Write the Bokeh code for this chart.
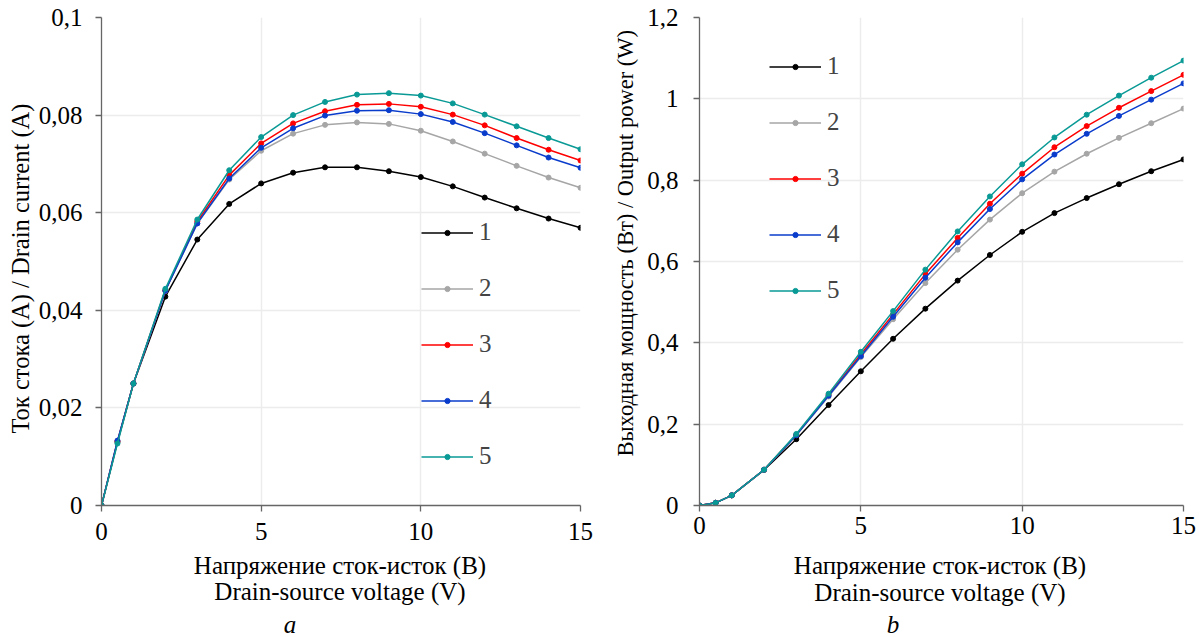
from bokeh.plotting import figure
from bokeh.layouts import row, column
from bokeh.models import Range1d, FixedTicker, CustomJSTickFormatter, Legend, LegendItem, Title, Div
from bokeh.embed import file_html
from bokeh.resources import INLINE

# ---- data ----
voltage = [0, 0.5, 1, 2, 3, 4, 5, 6, 7, 8, 9, 10, 11, 12, 13, 14, 15]
series_names = ["1", "2", "3", "4", "5"]
series_colors = ["#000000", "#a6a6a6", "#ff0000", "#0a3ccc", "#0a9a96"]

current_1 = [0, 0.0130, 0.0250, 0.0428, 0.0545, 0.0618, 0.0660, 0.0682, 0.0693, 0.0693, 0.0685, 0.0673, 0.0654, 0.0631, 0.0609, 0.0588, 0.0569]
current_2 = [0, 0.0130, 0.0250, 0.0440, 0.0578, 0.0668, 0.0727, 0.0762, 0.0780, 0.0785, 0.0782, 0.0768, 0.0746, 0.0721, 0.0696, 0.0672, 0.0651]
current_3 = [0, 0.0132, 0.0250, 0.0441, 0.0582, 0.0677, 0.0742, 0.0783, 0.0808, 0.0821, 0.0823, 0.0817, 0.0801, 0.0779, 0.0753, 0.0729, 0.0707]
current_4 = [0, 0.0133, 0.0250, 0.0440, 0.0578, 0.0670, 0.0733, 0.0773, 0.0799, 0.0809, 0.0810, 0.0802, 0.0786, 0.0763, 0.0738, 0.0713, 0.0692]
current_5 = [0, 0.0127, 0.0250, 0.0444, 0.0586, 0.0687, 0.0755, 0.0800, 0.0827, 0.0842, 0.0845, 0.0840, 0.0824, 0.0801, 0.0777, 0.0753, 0.0730]

power_1 = [0, 0.0066, 0.025, 0.0875, 0.163, 0.247, 0.330, 0.410, 0.484, 0.553, 0.616, 0.673, 0.719, 0.756, 0.790, 0.822, 0.851]
power_2 = [0, 0.0066, 0.025, 0.088, 0.173, 0.268, 0.365, 0.458, 0.547, 0.629, 0.703, 0.768, 0.821, 0.865, 0.904, 0.940, 0.976]
power_3 = [0, 0.0066, 0.025, 0.088, 0.174, 0.272, 0.372, 0.470, 0.569, 0.658, 0.742, 0.816, 0.881, 0.933, 0.978, 1.019, 1.059]
power_4 = [0, 0.0066, 0.025, 0.088, 0.173, 0.270, 0.367, 0.464, 0.560, 0.647, 0.729, 0.802, 0.863, 0.914, 0.958, 0.998, 1.038]
power_5 = [0, 0.0064, 0.025, 0.088, 0.176, 0.275, 0.378, 0.478, 0.580, 0.674, 0.760, 0.839, 0.905, 0.961, 1.008, 1.052, 1.094]

x_ticks = [0, 5, 10, 15]
y_ticks_current = [0, 0.02, 0.04, 0.06, 0.08, 0.1]
y_ticks_power = [0, 0.2, 0.4, 0.6, 0.8, 1.0, 1.2]

x_label_ru = "Напряжение сток-исток (В)"
x_label_en = "Drain-source voltage (V)"
y_label_current = "Ток стока (А) / Drain current (A)"
y_label_power = "Выходная мощность (Вт) / Output power (W)"
panel_letters = ["a", "b"]

FONT = "Liberation Serif"
FS = "25px"
AXIS_COLOR = "#666666"
GRID_COLOR = "#ececec"

fmt = CustomJSTickFormatter(code="""
let s = (+tick.toFixed(3)).toString();
return s.replace('.', ',');
""")


def make_plot(series, y_max, y_ticks, y_label, yl_size, width, height, mb_left, mb_right, mb_bottom,
              leg_loc, x_std, y_std, yl_offset, yl_standoff):
    p = figure(width=width, height=height, output_backend="svg", toolbar_location=None,
               x_range=Range1d(0, 15), y_range=Range1d(0, y_max),
               min_border_left=mb_left, min_border_right=mb_right,
               min_border_top=17, min_border_bottom=mb_bottom)
    p.outline_line_color = None
    p.background_fill_color = "white"
    for ax, ticks in ((p.xaxis[0], x_ticks), (p.yaxis[0], y_ticks)):
        ax.ticker = FixedTicker(ticks=ticks)
        ax.formatter = fmt
        ax.axis_line_color = AXIS_COLOR
        ax.axis_line_width = 1.3
        ax.major_tick_line_color = AXIS_COLOR
        ax.major_tick_line_width = 1.3
        ax.major_tick_in = 0
        ax.major_tick_out = 6
        ax.minor_tick_line_color = None
        ax.major_label_text_font = FONT
        ax.major_label_text_font_size = FS
        ax.major_label_text_color = "black"
    p.xaxis.major_label_standoff = x_std
    p.yaxis.major_label_standoff = y_std
    p.grid.grid_line_color = GRID_COLOR
    p.grid.grid_line_width = 1.5
    p.xgrid.ticker = FixedTicker(ticks=x_ticks)
    p.ygrid.ticker = FixedTicker(ticks=y_ticks)

    # y-axis title as a side title so it can be shifted along the axis
    p.add_layout(Title(text=y_label, align="left", offset=yl_offset, vertical_align="bottom",
                       standoff=yl_standoff, text_font=FONT, text_font_size=yl_size,
                       text_font_style="normal", text_color="black"), "left")

    items = []
    for name, color, ys in zip(series_names, series_colors, series):
        l = p.line(voltage, ys, line_color=color, line_width=1.5)
        s = p.scatter(voltage, ys, size=5, fill_color=color, line_color=color)
        items.append(LegendItem(label=name, renderers=[l, s]))
    leg = Legend(items=items, location=leg_loc, background_fill_alpha=0, border_line_color=None,
                 glyph_width=52, glyph_height=13, label_height=28, spacing=28, padding=0, margin=0,
                 label_standoff=6, label_text_font=FONT, label_text_font_size=FS)
    p.add_layout(leg, "center")
    return p


p1 = make_plot([current_1, current_2, current_3, current_4, current_5], 0.1, y_ticks_current,
               y_label_current, "24.5px", 600, 550, 101, 20, 45, (320, 35),
               11, 13, 72, 3)
p2 = make_plot([power_1, power_2, power_3, power_4, power_5], 1.2, y_ticks_power,
               y_label_power, "22.5px", 598, 550, 99, 15, 39, (70, 201),
               5, 15, 49, 14)


def span(text, cx, top, italic=False):
    style = ("position:absolute;left:%dpx;top:%.1fpx;transform:translateX(-50%%);white-space:nowrap;"
             % (cx, top))
    if italic:
        style += "font-style:italic;"
    return '<span style="%s">%s</span>' % (style, text)


bottom_html = (
    '<div style="position:relative;width:1199px;height:87px;font-family:\'Liberation Serif\';'
    'font-size:25px;line-height:25px;color:black;">'
    + span(x_label_ru, 340, 3.1) + span(x_label_en, 340, 29.1)
    + span(x_label_ru, 940, 2.8) + span(x_label_en, 940, 29.5)
    + span(panel_letters[0], 290, 62.1, italic=True)
    + span(panel_letters[1], 893, 62.4, italic=True)
    + '</div>'
)
bottom = Div(text=bottom_html, width=1199, height=87, margin=0)

layout = column(row(p1, p2), bottom)
open("out.html", "w").write(file_html(layout, INLINE))
